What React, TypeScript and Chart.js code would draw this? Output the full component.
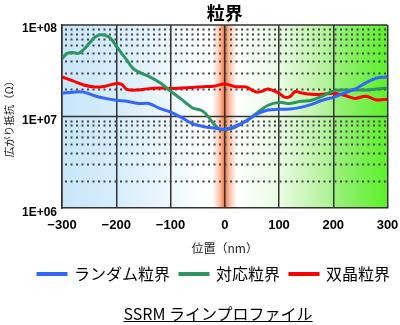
import React, { useEffect, useRef } from "react";
import { Chart, registerables } from "chart.js";

Chart.register(...registerables);

const seriesNames = ["ランダム粒界", "対応粒界", "双晶粒界"];
const seriesColors = ["#3366ff", "#2e9460", "#ff0000"];

const blueX = [-300, -280, -260, -240, -220, -200, -180, -160, -140, -120, -100, -80, -60, -40, -20, 0, 20, 40, 60, 80, 100, 120, 140, 160, 180, 200, 220, 240, 260, 280, 300];
const blueY = [1.8e7, 1.85e7, 1.85e7, 1.69e7, 1.58e7, 1.51e7, 1.47e7, 1.39e7, 1.39e7, 1.23e7, 1.12e7, 9.8e6, 8.4e6, 7.8e6, 7.5e6, 7.3e6, 7.9e6, 9.0e6, 1.07e7, 1.18e7, 1.2e7, 1.21e7, 1.26e7, 1.36e7, 1.51e7, 1.62e7, 1.8e7, 2.0e7, 2.33e7, 2.64e7, 2.71e7];

const greenX = [-300, -290, -280, -270, -260, -250, -240, -230, -220, -210, -200, -190, -180, -170, -160, -140, -120, -100, -80, -60, -40, -20, -10, 0, 20, 40, 60, 80, 100, 120, 140, 160, 180, 200, 220, 240, 260, 280, 300];
const greenY = [4.3e7, 4.9e7, 5.0e7, 4.9e7, 5.4e7, 6.3e7, 7.3e7, 7.8e7, 7.7e7, 7.1e7, 5.9e7, 4.9e7, 4.1e7, 3.4e7, 3.1e7, 2.75e7, 2.35e7, 1.9e7, 1.55e7, 1.25e7, 1.14e7, 8.3e6, 7.3e6, 7.2e6, 7.7e6, 9.0e6, 1.1e7, 1.33e7, 1.43e7, 1.39e7, 1.47e7, 1.51e7, 1.67e7, 1.9e7, 1.95e7, 1.95e7, 1.95e7, 2.0e7, 2.05e7];

const redX = [-300, -280, -260, -240, -220, -200, -190, -180, -160, -140, -120, -100, -80, -60, -40, -20, 0, 20, 40, 50, 60, 70, 80, 100, 110, 120, 130, 140, 160, 180, 200, 220, 240, 260, 280, 300];
const redY = [2.71e7, 2.45e7, 2.21e7, 2.1e7, 2.15e7, 2.3e7, 2.25e7, 1.98e7, 1.95e7, 2.02e7, 2.05e7, 2.03e7, 2.05e7, 2.08e7, 2.12e7, 2.15e7, 2.27e7, 2.12e7, 2.1e7, 1.95e7, 1.85e7, 1.9e7, 2.0e7, 1.8e7, 1.63e7, 1.65e7, 1.88e7, 1.82e7, 1.75e7, 1.75e7, 1.8e7, 1.71e7, 1.58e7, 1.67e7, 1.52e7, 1.55e7];

const xTickValues = [-300, -200, -100, 0, 100, 200, 300];
const xTickLabels = ["−300", "−200", "−100", "0", "100", "200", "300"];
const yTickValues = [1e6, 1e7, 1e8];
const yTickLabels = ["1E+06", "1E+07", "1E+08"];

const chartTitle = "粒界";
const xTitle = "位置（nm）";
const yTitle = "広がり抵抗（Ω）";
const footer = "SSRM ラインプロファイル";

const CJK = "'Noto Sans CJK JP', 'Liberation Sans', sans-serif";
const LAT = "'Liberation Sans', Arial, sans-serif";

const bgPlugin = {
  id: "bgPlugin",
  beforeDraw(chart: any) {
    const { ctx, chartArea, scales } = chart;
    const { left, right, top, bottom } = chartArea;
    const x = scales.x;
    const h = bottom - top;
    ctx.save();
    const bx0 = x.getPixelForValue(-300);
    const bx1 = x.getPixelForValue(-30);
    const gb = ctx.createLinearGradient(bx0, 0, bx1, 0);
    gb.addColorStop(0, "#c8e6fa");
    gb.addColorStop(0.37, "#d6edfb");
    gb.addColorStop(0.74, "#eef7fe");
    gb.addColorStop(1, "#ffffff");
    ctx.fillStyle = gb;
    ctx.fillRect(left, top, bx1 - left, h);
    const gx0 = x.getPixelForValue(20);
    const gx1 = x.getPixelForValue(300);
    const gg = ctx.createLinearGradient(gx0, 0, gx1, 0);
    gg.addColorStop(0, "#ffffff");
    gg.addColorStop(0.29, "#e8fbe2");
    gg.addColorStop(0.6, "#b4f29c");
    gg.addColorStop(0.66, "#98f07a");
    gg.addColorStop(1, "#5cf028");
    ctx.fillStyle = gg;
    ctx.fillRect(gx0, top, right - gx0, h);
    const c = x.getPixelForValue(0);
    const ob = ctx.createLinearGradient(c - 12, 0, c + 12, 0);
    ob.addColorStop(0, "rgba(245,120,70,0)");
    ob.addColorStop(0.3, "rgba(245,130,80,0.5)");
    ob.addColorStop(0.5, "rgba(242,110,60,1)");
    ob.addColorStop(0.7, "rgba(245,130,80,0.5)");
    ob.addColorStop(1, "rgba(245,120,70,0)");
    ctx.fillStyle = ob;
    ctx.fillRect(c - 12, top, 24, h);
    ctx.restore();
  },
  beforeDatasetsDraw(chart: any) {
    const { ctx, chartArea, scales } = chart;
    const { left, right } = chartArea;
    const y = scales.y;
    ctx.save();
    ctx.strokeStyle = "#444";
    ctx.lineWidth = 2;
    ctx.setLineDash([2, 3.5]);
    for (const d of [1e6, 1e7]) {
      for (let m = 2; m <= 9; m++) {
        const py = Math.round(y.getPixelForValue(m * d)) + 0.5;
        ctx.beginPath();
        ctx.moveTo(left + 3, py);
        ctx.lineTo(right, py);
        ctx.stroke();
      }
    }
    ctx.setLineDash([]);
    ctx.strokeStyle = "#333";
    ctx.lineWidth = 1.5;
    for (const v of [1e7, 1e8]) {
      const py = y.getPixelForValue(v);
      ctx.beginPath();
      ctx.moveTo(left, py);
      ctx.lineTo(right, py);
      ctx.stroke();
    }
    ctx.restore();
  },
};

export default function App() {
  const ref = useRef<HTMLCanvasElement | null>(null);
  useEffect(() => {
    if (!ref.current) return;
    const xs = [blueX, greenX, redX];
    const ys = [blueY, greenY, redY];
    const chart = new Chart(ref.current, {
      type: "line",
      data: {
        datasets: seriesNames.map((name, i) => ({
          label: name,
          data: xs[i].map((xv, j) => ({ x: xv, y: ys[i][j] })),
          borderColor: seriesColors[i],
          backgroundColor: seriesColors[i],
          borderWidth: 3,
          pointRadius: 0,
          tension: 0.35,
          fill: false,
        })),
      },
      options: {
        animation: false,
        responsive: true,
        maintainAspectRatio: false,
        layout: { padding: { left: 0, right: 0, top: 0, bottom: 33 } },
        plugins: {
          title: {
            display: true,
            text: chartTitle,
            fullSize: false,
            color: "#000",
            font: { family: CJK, size: 18, weight: "bold" },
            padding: { top: 2, bottom: 1.4 },
          },
          legend: {
            position: "bottom",
            align: "end",
            labels: {
              boxWidth: 28,
              boxHeight: 1,
              padding: 10,
              color: "#000",
              font: { family: CJK, size: 16 },
            },
          },
          tooltip: { enabled: false },
        },
        scales: {
          x: {
            type: "linear",
            min: -300,
            max: 300,
            afterBuildTicks: (s: any) => {
              s.ticks = xTickValues.map((v) => ({ value: v }));
            },
            afterFit: (s: any) => {
              s.height = 47.8;
              s.paddingRight = 12.5;
            },
            ticks: {
              padding: 9,
              color: "#000",
              font: { family: LAT, size: 13, weight: "bold" },
              callback: (_v: any, i: number) => xTickLabels[i],
              maxRotation: 0,
            },
            grid: { color: "#333", lineWidth: 1.5, drawTicks: false },
            border: { color: "#333", width: 1.5 },
            title: {
              display: true,
              text: xTitle,
              color: "#222",
              font: { family: CJK, size: 12 },
              padding: { top: 0, bottom: 0 },
            },
          },
          y: {
            type: "logarithmic",
            min: 1e6,
            max: 1e8,
            afterBuildTicks: (s: any) => {
              s.ticks = yTickValues.map((v) => ({ value: v }));
            },
            afterFit: (s: any) => {
              s.width = 62;
            },
            ticks: {
              padding: 5,
              labelOffset: 4,
              color: "#000",
              font: { family: LAT, size: 12, weight: "bold" },
              callback: (_v: any, i: number) => yTickLabels[i],
            },
            grid: { display: false, drawTicks: false },
            border: { color: "#333", width: 1.5 },
            title: {
              display: true,
              text: yTitle,
              color: "#222",
              font: { family: CJK, size: 10.5 },
              padding: { top: 3, bottom: 0 },
            },
          },
        },
      },
      plugins: [bgPlugin],
    } as any);
    return () => chart.destroy();
  }, []);

  return (
    <div style={{ position: "absolute", left: 0, top: 0, width: 400, height: 325, background: "#fff", overflow: "hidden" }}>
      <canvas ref={ref} />
      <div
        style={{
          position: "absolute",
          left: 0,
          top: 303,
          width: 400,
          paddingLeft: 36,
          boxSizing: "border-box",
          textAlign: "center",
          fontFamily: CJK,
          fontSize: 16,
          lineHeight: "20px",
          color: "#000",
          textDecoration: "underline",
        }}
      >
        {footer}
      </div>
    </div>
  );
}
